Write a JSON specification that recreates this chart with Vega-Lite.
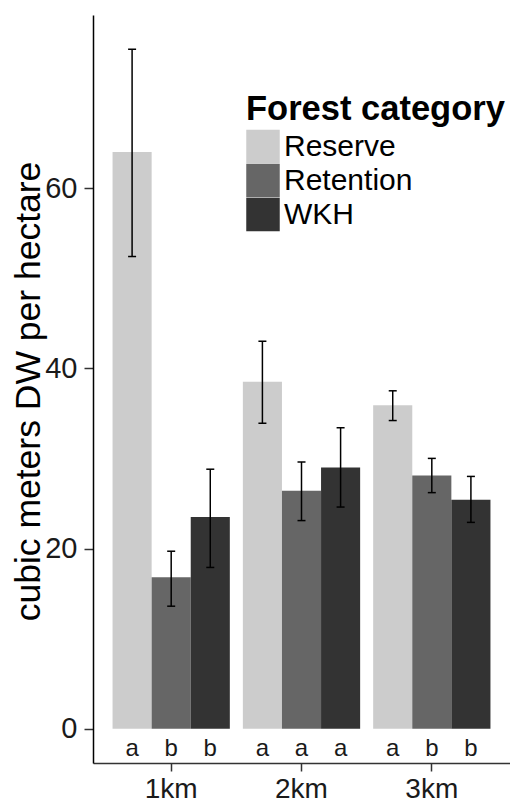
{
  "$schema": "https://vega.github.io/schema/vega-lite/v6.json",
  "width": 417,
  "height": 748,
  "autosize": {"type": "none"},
  "padding": {"left": 93, "top": 15, "right": 0, "bottom": 40},
  "background": "white",
  "config": {
    "view": {"stroke": null},
    "font": "Liberation Sans"
  },
  "data": {
    "values": [
      {"dist": "1km", "cat": "Reserve", "mean": 64.0, "lo": 52.4, "hi": 75.4, "letter": "a"},
      {"dist": "1km", "cat": "Retention", "mean": 16.8, "lo": 13.6, "hi": 19.7, "letter": "b"},
      {"dist": "1km", "cat": "WKH", "mean": 23.5, "lo": 17.9, "hi": 28.8, "letter": "b"},
      {"dist": "2km", "cat": "Reserve", "mean": 38.5, "lo": 33.9, "hi": 43.0, "letter": "a"},
      {"dist": "2km", "cat": "Retention", "mean": 26.4, "lo": 23.1, "hi": 29.6, "letter": "a"},
      {"dist": "2km", "cat": "WKH", "mean": 29.0, "lo": 24.6, "hi": 33.4, "letter": "a"},
      {"dist": "3km", "cat": "Reserve", "mean": 35.9, "lo": 34.2, "hi": 37.5, "letter": "a"},
      {"dist": "3km", "cat": "Retention", "mean": 28.1, "lo": 26.2, "hi": 30.0, "letter": "b"},
      {"dist": "3km", "cat": "WKH", "mean": 25.4, "lo": 22.9, "hi": 28.0, "letter": "b"}
    ]
  },
  "encoding": {
    "x": {
      "field": "dist",
      "type": "nominal",
      "scale": {"paddingInner": 0.1, "paddingOuter": 0.15},
      "axis": {
        "title": null,
        "labelAngle": 0,
        "labelFontSize": 28,
        "labelColor": "#1a1a1a",
        "labelPadding": 4,
        "domainColor": "#333333",
        "domainWidth": 1.5,
        "tickColor": "#333333",
        "tickWidth": 1.5,
        "tickSize": 8,
        "grid": false
      }
    },
    "xOffset": {
      "field": "cat",
      "type": "nominal",
      "sort": ["Reserve", "Retention", "WKH"],
      "scale": {"paddingInner": 0, "paddingOuter": 0}
    }
  },
  "layer": [
    {
      "mark": {"type": "bar"},
      "encoding": {
        "y": {
          "field": "mean",
          "type": "quantitative",
          "scale": {"domain": [-3.8, 79.2], "nice": false, "zero": false},
          "axis": {
            "values": [0, 20, 40, 60],
            "title": "cubic meters DW per hectare",
            "titleFontSize": 35.5,
            "titleFontWeight": "normal",
            "titleColor": "#000000",
            "titleX": -65,
            "titleY": 376,
            "titleBaseline": "middle",
            "titleAlign": "center",
            "labelFontSize": 29,
            "labelColor": "#1a1a1a",
            "labelPadding": 7,
            "domainColor": "#000000",
            "domainWidth": 1.5,
            "tickColor": "#333333",
            "tickWidth": 1.5,
            "tickSize": 9,
            "grid": false
          }
        },
        "y2": {"datum": 0},
        "color": {
          "field": "cat",
          "type": "nominal",
          "scale": {
            "domain": ["Reserve", "Retention", "WKH"],
            "range": ["#cccccc", "#666666", "#333333"]
          },
          "legend": {
            "title": "Forest category",
            "orient": "none",
            "legendX": 153,
            "legendY": 78,
            "padding": 0,
            "titleFontSize": 34.5,
            "titleFontWeight": "bold",
            "titleColor": "#000000",
            "titleAnchor": "start",
            "titlePadding": 2,
            "titleLimit": 400,
            "labelFontSize": 30,
            "labelColor": "#000000",
            "labelOffset": 4,
            "labelLimit": 300,
            "symbolType": "square",
            "symbolSize": 1122,
            "symbolStrokeWidth": 0,
            "symbolOpacity": 1,
            "rowPadding": 0
          }
        }
      }
    },
    {
      "mark": {"type": "rule", "strokeWidth": 1.5, "color": "#000000"},
      "encoding": {
        "y": {"field": "lo", "type": "quantitative"},
        "y2": {"field": "hi"}
      }
    },
    {
      "mark": {"type": "tick", "size": 8, "thickness": 1.5, "color": "#000000", "opacity": 1},
      "encoding": {
        "y": {"field": "lo", "type": "quantitative"}
      }
    },
    {
      "mark": {"type": "tick", "size": 8, "thickness": 1.5, "color": "#000000", "opacity": 1},
      "encoding": {
        "y": {"field": "hi", "type": "quantitative"}
      }
    },
    {
      "mark": {"type": "text", "fontSize": 24, "baseline": "alphabetic", "align": "center", "color": "#1a1a1a"},
      "encoding": {
        "y": {"datum": -3.0},
        "text": {"field": "letter"}
      }
    }
  ]
}
